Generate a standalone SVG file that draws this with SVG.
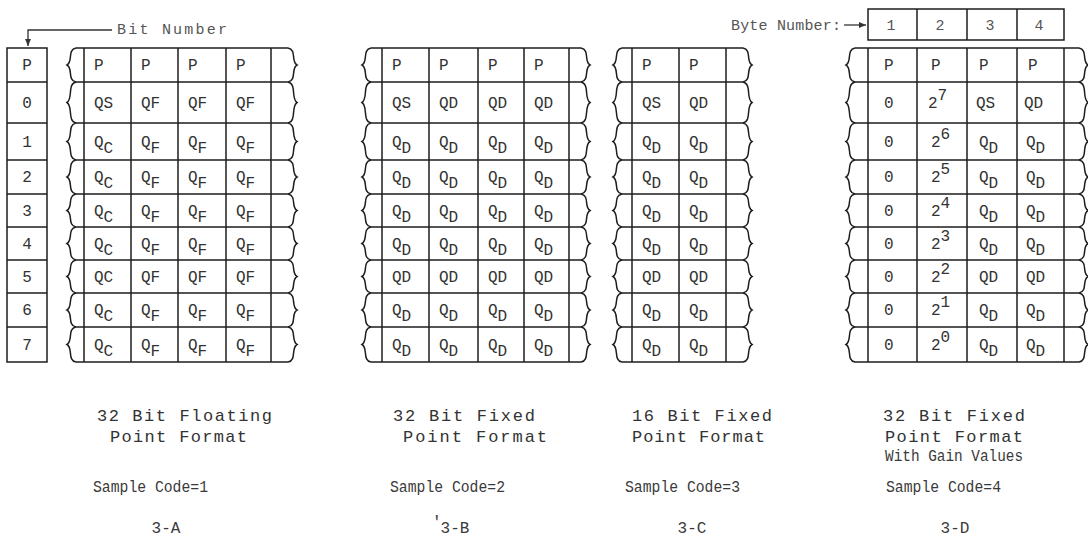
<svg xmlns="http://www.w3.org/2000/svg" xmlns:xlink="http://www.w3.org/1999/xlink" width="1088" height="546" viewBox="0 0 1088 546">
<style>
.ln{fill:none;stroke:#1e1e1e;stroke-width:1.5}
.cn{fill:none;stroke:#333;stroke-width:1.3}
.t{font-family:"Liberation Mono",monospace;font-size:16px;fill:#333}
.m{text-anchor:middle}
.cap{font-family:"Liberation Mono",monospace;font-size:17px;fill:#333}
.nar{font-family:"Liberation Mono",monospace;font-size:16px;fill:#3a3a3a}
.lbl{font-family:"Liberation Mono",monospace;font-size:15px;fill:#555}
</style>
<defs>
<path id="wv" class="ln" d="M0,48 C-9,49.7 -2.7,61.6 -9,65 C-2.7,68.4 -9,80.3 0,82 C-9,84.05 -2.7,98.4 -9,102.5 C-2.7,106.6 -9,120.95 0,123 C-9,124.85 -2.7,137.8 -9,141.5 C-2.7,145.2 -9,158.15 0,160 C-9,161.7 -2.7,173.6 -9,177 C-2.7,180.4 -9,192.3 0,194 C-9,195.65 -2.7,207.2 -9,210.5 C-2.7,213.8 -9,225.35 0,227 C-9,228.65 -2.7,240.2 -9,243.5 C-2.7,246.8 -9,258.35 0,260 C-9,261.65 -2.7,273.2 -9,276.5 C-2.7,279.8 -9,291.35 0,293 C-9,294.7 -2.7,306.6 -9,310 C-2.7,313.4 -9,325.3 0,327 C-9,328.75 -2.7,341 -9,344.5 C-2.7,348 -9,360.25 0,362"/>
<marker id="ah" markerWidth="8" markerHeight="8" refX="7" refY="4" orient="auto" markerUnits="userSpaceOnUse">
<path d="M0,1 L7,4 L0,7 Z" fill="#333"/>
</marker>
</defs>
<rect width="1088" height="546" fill="#fff"/>

<g id="bit-number-label">
<text class="lbl" x="117" y="34" textLength="110" lengthAdjust="spacing">Bit Number</text>
</g>
<g id="byte-number-header">
<text class="lbl" x="731" y="30" textLength="110" lengthAdjust="spacing">Byte Number:</text>
<path class="ln" d="M868,9H1064V40H868Z M917,9V40 M967,9V40 M1017,9V40"/>
<text class="lbl m" x="891" y="30">1</text>
<text class="lbl m" x="940" y="30">2</text>
<text class="lbl m" x="990" y="30">3</text>
<text class="lbl m" x="1039" y="30">4</text>
</g>

<g id="connectors">
<path class="cn" d="M112,30H28V46" marker-end="url(#ah)"/>
<path class="cn" d="M844,25H866" marker-end="url(#ah)"/>
</g>

<g id="bit-column">
<path class="ln" d="M7,48H47V362H7Z M7,82H47 M7,123H47 M7,160H47 M7,194H47 M7,227H47 M7,260H47 M7,293H47 M7,327H47"/>
<text class="t m" x="27" y="70">P</text>
<text class="t m" x="27" y="107.5">0</text>
<text class="t m" x="27" y="146.5">1</text>
<text class="t m" x="27" y="182">2</text>
<text class="t m" x="27" y="215.5">3</text>
<text class="t m" x="27" y="248.5">4</text>
<text class="t m" x="27" y="281.5">5</text>
<text class="t m" x="27" y="315">6</text>
<text class="t m" x="27" y="349.5">7</text>
</g>

<g id="block-3A">
<use xlink:href="#wv" href="#wv" transform="translate(76,0)"/>
<use xlink:href="#wv" href="#wv" transform="translate(288,0) scale(-1,1)"/>
<path class="ln" d="M76,48H288 M76,82H288 M76,123H288 M76,160H288 M76,194H288 M76,227H288 M76,260H288 M76,293H288 M76,327H288 M76,362H288 M84,48V362 M131,48V362 M178,48V362 M226,48V362 M271,48V362"/>
<text class="t" x="94" y="70">P</text><text class="t" x="141" y="70">P</text><text class="t" x="188" y="70">P</text><text class="t" x="236" y="70">P</text>
<text class="t" x="94" y="107.5">QS</text><text class="t" x="141" y="107.5">QF</text><text class="t" x="188" y="107.5">QF</text><text class="t" x="236" y="107.5">QF</text>
<text class="t" x="94" y="146.5">Q<tspan dy="6">C</tspan></text><text class="t" x="141" y="146.5">Q<tspan dy="6">F</tspan></text><text class="t" x="188" y="146.5">Q<tspan dy="6">F</tspan></text><text class="t" x="236" y="146.5">Q<tspan dy="6">F</tspan></text>
<text class="t" x="94" y="182">Q<tspan dy="6">C</tspan></text><text class="t" x="141" y="182">Q<tspan dy="6">F</tspan></text><text class="t" x="188" y="182">Q<tspan dy="6">F</tspan></text><text class="t" x="236" y="182">Q<tspan dy="6">F</tspan></text>
<text class="t" x="94" y="215.5">Q<tspan dy="6">C</tspan></text><text class="t" x="141" y="215.5">Q<tspan dy="6">F</tspan></text><text class="t" x="188" y="215.5">Q<tspan dy="6">F</tspan></text><text class="t" x="236" y="215.5">Q<tspan dy="6">F</tspan></text>
<text class="t" x="94" y="248.5">Q<tspan dy="6">C</tspan></text><text class="t" x="141" y="248.5">Q<tspan dy="6">F</tspan></text><text class="t" x="188" y="248.5">Q<tspan dy="6">F</tspan></text><text class="t" x="236" y="248.5">Q<tspan dy="6">F</tspan></text>
<text class="t" x="94" y="281.5">QC</text><text class="t" x="141" y="281.5">QF</text><text class="t" x="188" y="281.5">QF</text><text class="t" x="236" y="281.5">QF</text>
<text class="t" x="94" y="315">Q<tspan dy="6">C</tspan></text><text class="t" x="141" y="315">Q<tspan dy="6">F</tspan></text><text class="t" x="188" y="315">Q<tspan dy="6">F</tspan></text><text class="t" x="236" y="315">Q<tspan dy="6">F</tspan></text>
<text class="t" x="94" y="349.5">Q<tspan dy="6">C</tspan></text><text class="t" x="141" y="349.5">Q<tspan dy="6">F</tspan></text><text class="t" x="188" y="349.5">Q<tspan dy="6">F</tspan></text><text class="t" x="236" y="349.5">Q<tspan dy="6">F</tspan></text>
</g>

<g id="block-3B">
<use xlink:href="#wv" href="#wv" transform="translate(371,0)"/>
<use xlink:href="#wv" href="#wv" transform="translate(581,0) scale(-1,1)"/>
<path class="ln" d="M371,48H581 M371,82H581 M371,123H581 M371,160H581 M371,194H581 M371,227H581 M371,260H581 M371,293H581 M371,327H581 M371,362H581 M382,48V362 M429,48V362 M478,48V362 M524,48V362 M569,48V362"/>
<text class="t" x="392" y="70">P</text><text class="t" x="439" y="70">P</text><text class="t" x="488" y="70">P</text><text class="t" x="534" y="70">P</text>
<text class="t" x="392" y="107.5">QS</text><text class="t" x="439" y="107.5">QD</text><text class="t" x="488" y="107.5">QD</text><text class="t" x="534" y="107.5">QD</text>
<text class="t" x="392" y="146.5">Q<tspan dy="6">D</tspan></text><text class="t" x="439" y="146.5">Q<tspan dy="6">D</tspan></text><text class="t" x="488" y="146.5">Q<tspan dy="6">D</tspan></text><text class="t" x="534" y="146.5">Q<tspan dy="6">D</tspan></text>
<text class="t" x="392" y="182">Q<tspan dy="6">D</tspan></text><text class="t" x="439" y="182">Q<tspan dy="6">D</tspan></text><text class="t" x="488" y="182">Q<tspan dy="6">D</tspan></text><text class="t" x="534" y="182">Q<tspan dy="6">D</tspan></text>
<text class="t" x="392" y="215.5">Q<tspan dy="6">D</tspan></text><text class="t" x="439" y="215.5">Q<tspan dy="6">D</tspan></text><text class="t" x="488" y="215.5">Q<tspan dy="6">D</tspan></text><text class="t" x="534" y="215.5">Q<tspan dy="6">D</tspan></text>
<text class="t" x="392" y="248.5">Q<tspan dy="6">D</tspan></text><text class="t" x="439" y="248.5">Q<tspan dy="6">D</tspan></text><text class="t" x="488" y="248.5">Q<tspan dy="6">D</tspan></text><text class="t" x="534" y="248.5">Q<tspan dy="6">D</tspan></text>
<text class="t" x="392" y="281.5">QD</text><text class="t" x="439" y="281.5">QD</text><text class="t" x="488" y="281.5">QD</text><text class="t" x="534" y="281.5">QD</text>
<text class="t" x="392" y="315">Q<tspan dy="6">D</tspan></text><text class="t" x="439" y="315">Q<tspan dy="6">D</tspan></text><text class="t" x="488" y="315">Q<tspan dy="6">D</tspan></text><text class="t" x="534" y="315">Q<tspan dy="6">D</tspan></text>
<text class="t" x="392" y="349.5">Q<tspan dy="6">D</tspan></text><text class="t" x="439" y="349.5">Q<tspan dy="6">D</tspan></text><text class="t" x="488" y="349.5">Q<tspan dy="6">D</tspan></text><text class="t" x="534" y="349.5">Q<tspan dy="6">D</tspan></text>
</g>

<g id="block-3C">
<use xlink:href="#wv" href="#wv" transform="translate(622,0)"/>
<use xlink:href="#wv" href="#wv" transform="translate(743,0) scale(-1,1)"/>
<path class="ln" d="M622,48H743 M622,82H743 M622,123H743 M622,160H743 M622,194H743 M622,227H743 M622,260H743 M622,293H743 M622,327H743 M622,362H743 M632,48V362 M679,48V362 M726,48V362"/>
<text class="t" x="642" y="70">P</text><text class="t" x="689" y="70">P</text>
<text class="t" x="642" y="107.5">QS</text><text class="t" x="689" y="107.5">QD</text>
<text class="t" x="642" y="146.5">Q<tspan dy="6">D</tspan></text><text class="t" x="689" y="146.5">Q<tspan dy="6">D</tspan></text>
<text class="t" x="642" y="182">Q<tspan dy="6">D</tspan></text><text class="t" x="689" y="182">Q<tspan dy="6">D</tspan></text>
<text class="t" x="642" y="215.5">Q<tspan dy="6">D</tspan></text><text class="t" x="689" y="215.5">Q<tspan dy="6">D</tspan></text>
<text class="t" x="642" y="248.5">Q<tspan dy="6">D</tspan></text><text class="t" x="689" y="248.5">Q<tspan dy="6">D</tspan></text>
<text class="t" x="642" y="281.5">QD</text><text class="t" x="689" y="281.5">QD</text>
<text class="t" x="642" y="315">Q<tspan dy="6">D</tspan></text><text class="t" x="689" y="315">Q<tspan dy="6">D</tspan></text>
<text class="t" x="642" y="349.5">Q<tspan dy="6">D</tspan></text><text class="t" x="689" y="349.5">Q<tspan dy="6">D</tspan></text>
</g>

<g id="block-3D">
<use xlink:href="#wv" href="#wv" transform="translate(855,0)"/>
<use xlink:href="#wv" href="#wv" transform="translate(1079,0) scale(-1,1)"/>
<path class="ln" d="M855,48H1079 M855,82H1079 M855,123H1079 M855,160H1079 M855,194H1079 M855,227H1079 M855,260H1079 M855,293H1079 M855,327H1079 M855,362H1079 M868,48V362 M917,48V362 M967,48V362 M1017,48V362 M1064,48V362"/>
<text class="t" x="884" y="70">P</text><text class="t" x="931" y="70">P</text><text class="t" x="979" y="70">P</text><text class="t" x="1028" y="70">P</text>
<text class="t" x="884" y="107.5">0</text><text class="t" x="928" y="107.5">2<tspan dy="-8">7</tspan></text><text class="t" x="976" y="107.5">QS</text><text class="t" x="1024" y="107.5">QD</text>
<text class="t" x="884" y="146.5">0</text><text class="t" x="931" y="146.5">2<tspan dy="-8">6</tspan></text><text class="t" x="979" y="146.5">Q<tspan dy="6">D</tspan></text><text class="t" x="1026" y="146.5">Q<tspan dy="6">D</tspan></text>
<text class="t" x="884" y="182">0</text><text class="t" x="931" y="182">2<tspan dy="-8">5</tspan></text><text class="t" x="979" y="182">Q<tspan dy="6">D</tspan></text><text class="t" x="1026" y="182">Q<tspan dy="6">D</tspan></text>
<text class="t" x="884" y="215.5">0</text><text class="t" x="931" y="215.5">2<tspan dy="-8">4</tspan></text><text class="t" x="979" y="215.5">Q<tspan dy="6">D</tspan></text><text class="t" x="1026" y="215.5">Q<tspan dy="6">D</tspan></text>
<text class="t" x="884" y="248.5">0</text><text class="t" x="931" y="248.5">2<tspan dy="-8">3</tspan></text><text class="t" x="979" y="248.5">Q<tspan dy="6">D</tspan></text><text class="t" x="1026" y="248.5">Q<tspan dy="6">D</tspan></text>
<text class="t" x="884" y="281.5">0</text><text class="t" x="931" y="281.5">2<tspan dy="-8">2</tspan></text><text class="t" x="979" y="281.5">QD</text><text class="t" x="1026" y="281.5">QD</text>
<text class="t" x="884" y="315">0</text><text class="t" x="931" y="315">2<tspan dy="-8">1</tspan></text><text class="t" x="979" y="315">Q<tspan dy="6">D</tspan></text><text class="t" x="1026" y="315">Q<tspan dy="6">D</tspan></text>
<text class="t" x="884" y="349.5">0</text><text class="t" x="931" y="349.5">2<tspan dy="-8">0</tspan></text><text class="t" x="979" y="349.5">Q<tspan dy="6">D</tspan></text><text class="t" x="1026" y="349.5">Q<tspan dy="6">D</tspan></text>
</g>

<g id="caption-3A">
<text class="cap" x="97" y="421" textLength="175" lengthAdjust="spacing">32 Bit Floating</text>
<text class="cap" x="110" y="442" textLength="137" lengthAdjust="spacing">Point Format</text>
<text class="nar" x="93" y="492" textLength="115" lengthAdjust="spacingAndGlyphs">Sample Code=1</text>
<text class="nar m" x="166" y="533">3-A</text>
</g>
<g id="caption-3B">
<text class="cap" x="393" y="421" textLength="142" lengthAdjust="spacing">32 Bit Fixed</text>
<text class="cap" x="403" y="442" textLength="144" lengthAdjust="spacing">Point Format</text>
<text class="nar" x="390" y="492" textLength="115" lengthAdjust="spacingAndGlyphs">Sample Code=2</text>
<text class="nar" x="432" y="527" font-size="12">'</text>
<text class="nar m" x="455" y="533">3-B</text>
</g>
<g id="caption-3C">
<text class="cap" x="632" y="421" textLength="140" lengthAdjust="spacing">16 Bit Fixed</text>
<text class="cap" x="632" y="442" textLength="133" lengthAdjust="spacing">Point Format</text>
<text class="nar" x="625" y="492" textLength="115" lengthAdjust="spacingAndGlyphs">Sample Code=3</text>
<text class="nar m" x="692" y="533">3-C</text>
</g>
<g id="caption-3D">
<text class="cap" x="883" y="421" textLength="142" lengthAdjust="spacing">32 Bit Fixed</text>
<text class="cap" x="885" y="442" textLength="138" lengthAdjust="spacing">Point Format</text>
<text class="nar" x="885" y="461" textLength="138" lengthAdjust="spacingAndGlyphs">With Gain Values</text>
<text class="nar" x="886" y="492" textLength="115" lengthAdjust="spacingAndGlyphs">Sample Code=4</text>
<text class="nar m" x="955" y="533">3-D</text>
</g>
</svg>
